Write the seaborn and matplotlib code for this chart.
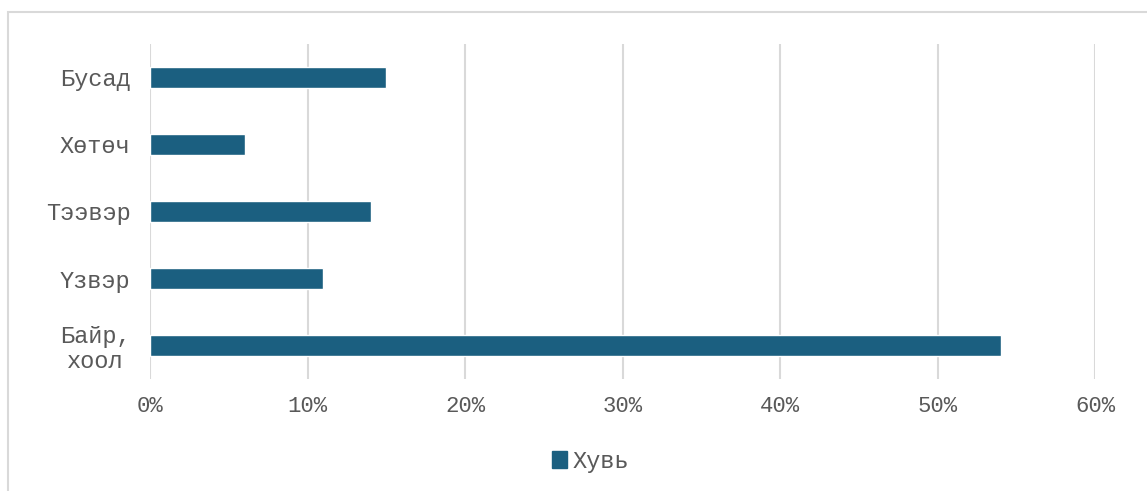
import matplotlib
matplotlib.use("Agg")
import matplotlib.pyplot as plt
import matplotlib.patches as mpatches
import matplotlib.ticker as mticker
import pandas as pd
import seaborn as sns

# Share of spending by category (percent)
categories = ["Бусад", "Хөтөч", "Тээвэр", "Үзвэр", "Байр,\nхоол"]
shares = [15, 6, 14, 11, 54]
series_name = "Хувь"
x_ticks = [0, 10, 20, 30, 40, 50, 60]

bar_color = "#1b5f80"
grid_color = "#d9d9d9"
text_color = "#595959"

df = pd.DataFrame({"category": categories, "share": shares})

sns.set_theme(style="white")
plt.rcParams["font.family"] = ["Liberation Mono", "DejaVu Sans Mono"]

fig = plt.figure(figsize=(11.47, 4.91), dpi=100)
ax = fig.add_axes([0.1308, 0.2281, 0.8239, 0.6823])

sns.barplot(data=df, x="share", y="category", order=categories,
            orient="h", color=bar_color, width=0.3, saturation=1,
            ax=ax, zorder=3)

ax.set_xlim(0, 60)
ax.set_xticks(x_ticks)
ax.xaxis.set_major_formatter(mticker.FuncFormatter(lambda v, p: f"{v:.0f}%"))
ax.grid(axis="x", color=grid_color, linewidth=1.5, zorder=0)
ax.grid(axis="y", visible=False)
for side in ["top", "right", "bottom", "left"]:
    ax.spines[side].set_visible(False)
ax.set_xlabel("")
ax.set_ylabel("")
ax.tick_params(axis="x", length=0, pad=12, labelsize=16, labelcolor=text_color)
ax.tick_params(axis="y", length=0, pad=14, labelsize=17, labelcolor=text_color)
for lbl in ax.get_yticklabels():
    lbl.set_multialignment("center")
    lbl.set_linespacing(1.1)

handle = mpatches.Patch(color=bar_color, label=series_name)
fig.legend(handles=[handle], loc="center", bbox_to_anchor=(0.515, 0.061),
           frameon=False, handlelength=0.6, handleheight=0.7,
           handletextpad=0.25, fontsize=17, labelcolor=text_color)

# Chart-area frame
frame = mpatches.Rectangle((8 / 1147, -0.05), 1.2, 1 - 12 / 491 + 0.05,
                           transform=fig.transFigure, fill=False,
                           edgecolor=grid_color, linewidth=1.5)
fig.patches.append(frame)

fig.savefig("out.png", dpi=100)
